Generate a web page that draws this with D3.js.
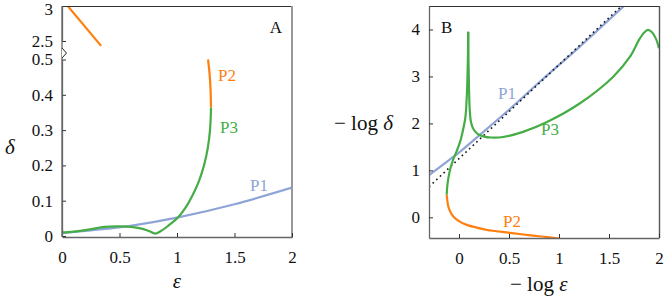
<!DOCTYPE html>
<meta charset="utf-8">
<head>
<style>
body { margin: 0; background: #fff; }
svg text { font-family: "Liberation Serif", "DejaVu Serif", serif; fill: #111; }
.curve { fill: none; stroke-width: 2.2; stroke-linejoin: round; stroke-linecap: butt; }
</style>
</head>
<body>
<script src="https://cdn.jsdelivr.net/npm/d3@7"></script>
<script>

// ---- data, panel A (epsilon, delta) ----
var aP1 = [[0,0.008],[0.25,0.016],[0.58,0.028],[1.0,0.052],[1.5,0.09],[2,0.137]];
var aP2top = [[0.05,3.0],[0.34,2.43]];
var aP2 = [[1.27,0.50],[1.283,0.46],[1.291,0.42],[1.296,0.364]];
var aP3 = [[0,0.02],[0.005,0.011],[0.05,0.011],[0.23,0.018],[0.37,0.026],[0.52,0.027],
           [0.66,0.023],[0.75,0.015],[0.81,0.007],[0.86,0.014],[0.92,0.028],[1.01,0.053],
           [1.07,0.078],[1.13,0.112],[1.19,0.155],[1.235,0.20],[1.268,0.25],[1.287,0.30],[1.296,0.364]];
var aXTicks = [0, 0.5, 1, 1.5, 2];
var aYTicksLow = [0, 0.1, 0.2, 0.3, 0.4, 0.5];
var aYTicksHigh = [2.5, 3];

// ---- data, panel B (-log eps, -log delta) ----
var bP1 = [[-0.3,0.90],[-0.1,1.22],[0,1.38],[0.2,1.74],[0.5,2.29],[0.8,2.87],[1.2,3.62],[1.7,4.6]];
var bAsym = [[-0.3,0.65],[1.7,4.65]];
var bP2 = [[-0.123,0.48],[-0.115,0.33],[-0.107,0.23],[-0.085,0.11],[-0.057,0.02],[0,-0.08],
           [0.077,-0.16],[0.2,-0.23],[0.28,-0.27],[0.51,-0.33],[0.7,-0.38],[0.88,-0.42],[1.0,-0.45]];
var bP3rise = [[-0.123,0.48],[-0.118,0.65],[-0.105,0.85],[-0.085,1.05],[-0.06,1.22],[-0.025,1.4],
               [0.01,1.6],[0.04,1.86],[0.062,2.1],[0.076,2.5],[0.085,3.0],[0.09,3.5],[0.092,3.95]];
var bP3fall = [[0.092,3.95],[0.095,3.3],[0.1,2.75],[0.107,2.3],[0.118,2.05],[0.135,1.92],[0.16,1.83],
               [0.2,1.76],[0.25,1.72],[0.32,1.70],[0.44,1.71],[0.64,1.82],[0.88,2.03],[1.21,2.43],
               [1.54,2.99],[1.71,3.42],[1.8,3.78],[1.85,3.93],[1.89,3.99],[1.93,3.94],[1.97,3.8],[2.0,3.6]];
var bXTicks = [0, 0.5, 1, 1.5, 2];
var bYTicks = [0, 1, 2, 3, 4];

var blue = "#8ea4d6", orange = "#ff7f0e", green = "#45ad45";

var svg = d3.select("body").append("svg")
    .attr("width", 664)
    .attr("height", 296);

// ---------- panel A ----------
var ax = d3.scaleLinear().domain([0, 2]).range([62, 292]);
var ayLow = d3.scaleLinear().domain([0, 0.5]).range([236, 59.5]);
var ayHigh = d3.scaleLinear().domain([2.5, 3]).range([41, 6]);

var gA = svg.append("g");
gA.append("defs").append("clipPath").attr("id", "clipA")
  .append("rect").attr("x", 62).attr("y", 6).attr("width", 230).attr("height", 231);

var lineLow = d3.line().x(function(d) { return ax(d[0]); }).y(function(d) { return ayLow(d[1]); }).curve(d3.curveCatmullRom);
var lineHigh = d3.line().x(function(d) { return ax(d[0]); }).y(function(d) { return ayHigh(d[1]); });

var curvesA = gA.append("g").attr("clip-path", "url(#clipA)");
curvesA.append("path").attr("class", "curve").attr("d", lineLow(aP1)).style("stroke", blue);
curvesA.append("path").attr("class", "curve").attr("d", lineLow(aP3)).style("stroke", green);
curvesA.append("path").attr("class", "curve").attr("d", lineLow(aP2)).style("stroke", orange);
curvesA.append("path").attr("class", "curve").attr("d", lineHigh(aP2top)).style("stroke", orange);

// frame
gA.append("line").attr("x1", 62).attr("x2", 292).attr("y1", 6.5).attr("y2", 6.5).style("stroke", "#333").style("stroke-width", 1.2);
gA.append("line").attr("x1", 292).attr("x2", 292).attr("y1", 6).attr("y2", 238).style("stroke", "#999").style("stroke-width", 2);

var xAxisA = d3.axisBottom(ax).tickValues(aXTicks).tickSizeInner(-4).tickSizeOuter(0).tickPadding(14)
    .tickFormat(d3.format("~g"));
gA.append("g").attr("class", "x axis").attr("transform", "translate(0,237)").call(xAxisA);

var yAxisLow = d3.axisLeft(ayLow).tickValues(aYTicksLow).tickSizeInner(-4).tickSizeOuter(0).tickPadding(9)
    .tickFormat(d3.format("~g"));
var yAxisHigh = d3.axisLeft(ayHigh).tickValues(aYTicksHigh).tickSizeInner(-4).tickSizeOuter(0).tickPadding(9)
    .tickFormat(d3.format("~g"));
gA.append("g").attr("class", "y axis").attr("transform", "translate(62,0)").call(yAxisLow);
gA.append("g").attr("class", "y axis high").attr("transform", "translate(62,0)").call(yAxisHigh);
// nudge the top label so it is not cut at the page edge
gA.selectAll(".high text").filter(function(d) { return d === 3; }).attr("dy", "0.5em");
gA.append("line").attr("x1", 62).attr("x2", 62).attr("y1", 6).attr("y2", 237).style("stroke", "#666").style("stroke-width", 1.3);

// axis break marker
gA.append("path").attr("d", "M62,48L66.5,53L62,58").style("fill", "#fff").style("stroke", "#222").style("stroke-width", 1);

gA.append("text").attr("x", 276).attr("y", 27).attr("dy", "0.35em").attr("text-anchor", "middle")
  .style("font-size", "17px").text("A");
gA.append("text").attr("x", 250).attr("y", 185).attr("dy", "0.35em")
  .style("font-size", "17px").style("fill", blue).text("P1");
gA.append("text").attr("x", 218).attr("y", 75).attr("dy", "0.35em")
  .style("font-size", "17px").style("fill", orange).text("P2");
gA.append("text").attr("x", 220).attr("y", 127).attr("dy", "0.35em")
  .style("font-size", "17px").style("fill", green).text("P3");

gA.append("text").attr("x", 177).attr("y", 281).attr("dy", "0.35em").attr("text-anchor", "middle")
  .style("font-size", "21px").style("font-style", "italic").text("ε");
gA.append("text").attr("x", 10).attr("y", 147).attr("dy", "0.35em").attr("text-anchor", "middle")
  .style("font-size", "21px").style("font-style", "italic").text("δ");

// ---------- panel B ----------
var bx = d3.scaleLinear().domain([-0.3, 2]).range([429, 659]);
var by = d3.scaleLinear().domain([-0.44, 4.5]).range([238, 6]);

var gB = svg.append("g");
gB.append("defs").append("clipPath").attr("id", "clipB")
  .append("rect").attr("x", 429).attr("y", 6).attr("width", 230).attr("height", 232);

var lineB = d3.line().x(function(d) { return bx(d[0]); }).y(function(d) { return by(d[1]); }).curve(d3.curveCatmullRom);
var lineBy = d3.line().x(function(d) { return bx(d[0]); }).y(function(d) { return by(d[1]); }).curve(d3.curveMonotoneY);

var curvesB = gB.append("g").attr("clip-path", "url(#clipB)");
curvesB.append("path").attr("class", "curve").attr("d", lineB(bP1)).style("stroke", blue);
curvesB.append("path").attr("d", d3.line().x(function(d) { return bx(d[0]); }).y(function(d) { return by(d[1]); })(bAsym))
  .style("fill", "none").style("stroke", "#111").style("stroke-width", 1.6).style("stroke-dasharray", "1.6,3.4");
curvesB.append("path").attr("class", "curve").attr("d", lineBy(bP3rise)).style("stroke", green);
curvesB.append("path").attr("class", "curve").attr("d", lineB(bP3fall)).style("stroke", green);
curvesB.append("path").attr("class", "curve").attr("d", lineB(bP2)).style("stroke", orange);

gB.append("line").attr("x1", 429).attr("x2", 659).attr("y1", 6.5).attr("y2", 6.5).style("stroke", "#333").style("stroke-width", 1.2);
gB.append("line").attr("x1", 659.5).attr("x2", 659.5).attr("y1", 6).attr("y2", 238).style("stroke", "#555").style("stroke-width", 1.4);

var xAxisB = d3.axisBottom(bx).tickValues(bXTicks).tickSizeInner(-4).tickSizeOuter(0).tickPadding(14)
    .tickFormat(d3.format("~g"));
gB.append("g").attr("class", "x axis").attr("transform", "translate(0,238)").call(xAxisB);
var yAxisB = d3.axisLeft(by).tickValues(bYTicks).tickSizeInner(-4).tickSizeOuter(0).tickPadding(9)
    .tickFormat(d3.format("~g"));
gB.append("g").attr("class", "y axis").attr("transform", "translate(429,0)").call(yAxisB);

gB.append("text").attr("x", 441).attr("y", 27).attr("dy", "0.35em")
  .style("font-size", "17px").text("B");
gB.append("text").attr("x", 498).attr("y", 93).attr("dy", "0.35em")
  .style("font-size", "17px").style("fill", blue).text("P1");
gB.append("text").attr("x", 541).attr("y", 129).attr("dy", "0.35em")
  .style("font-size", "17px").style("fill", green).text("P3");
gB.append("text").attr("x", 503).attr("y", 221).attr("dy", "0.35em")
  .style("font-size", "17px").style("fill", orange).text("P2");

var labY = gB.append("text").attr("x", 334).attr("y", 123).attr("dy", "0.35em").style("font-size", "21px");
labY.append("tspan").text("− log ");
labY.append("tspan").style("font-style", "italic").text("δ");
var labX = gB.append("text").attr("x", 510).attr("y", 284).attr("dy", "0.35em").style("font-size", "21px");
labX.append("tspan").text("− log ");
labX.append("tspan").style("font-style", "italic").text("ε");

// axis styling
svg.selectAll(".axis path.domain").style("stroke", "#666").style("stroke-width", 1.3);
svg.selectAll(".axis line").style("stroke", "#333");
svg.selectAll(".axis text").style("font-size", "17px").style("font-family", "'Liberation Serif', serif").style("fill", "#111");

</script>
</body>
